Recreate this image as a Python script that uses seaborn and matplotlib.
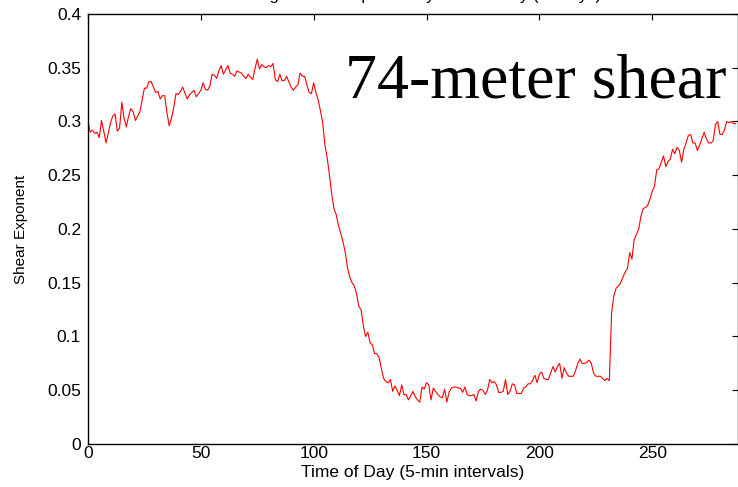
import matplotlib
matplotlib.use("Agg")
import matplotlib.pyplot as plt
import numpy as np
import pandas as pd
import seaborn as sns
from matplotlib.ticker import FuncFormatter

# Shear exponent at 74 m, one value per 5-minute interval
night_am = [
    0.300, 0.290, 0.292, 0.289, 0.290, 0.285, 0.301, 0.291, 0.280, 0.289,
    0.299, 0.305, 0.307, 0.291, 0.294, 0.318, 0.303, 0.295, 0.305, 0.312,
    0.309, 0.301, 0.305, 0.309, 0.320, 0.331, 0.331, 0.337, 0.337, 0.332,
    0.327, 0.328, 0.321, 0.324, 0.324, 0.308, 0.296, 0.303, 0.313, 0.326,
    0.325, 0.328, 0.332, 0.326, 0.321, 0.325, 0.327, 0.329, 0.323, 0.326,
    0.329, 0.336, 0.330, 0.329, 0.333, 0.344, 0.343, 0.340, 0.347, 0.352,
    0.344, 0.348, 0.352, 0.345, 0.344, 0.342, 0.347, 0.346, 0.345, 0.342,
    0.340, 0.344, 0.341, 0.339, 0.349, 0.358, 0.349, 0.353, 0.351, 0.350,
    0.352, 0.351, 0.354, 0.339, 0.337, 0.344, 0.338, 0.338, 0.342, 0.337,
    0.332, 0.329, 0.332, 0.334, 0.345, 0.342, 0.342, 0.334, 0.327, 0.326,
    0.336, 0.327, 0.320, 0.310, 0.299,
]
morning_drop = [
    0.278, 0.266, 0.250, 0.232, 0.219, 0.213, 0.203, 0.196, 0.188, 0.178,
    0.164, 0.155, 0.150, 0.147, 0.140, 0.128, 0.125, 0.110, 0.100, 0.104,
    0.094, 0.092, 0.084, 0.084, 0.080, 0.070, 0.061, 0.058, 0.057, 0.060,
]
daytime = [
    0.049, 0.054, 0.050, 0.045, 0.055, 0.046, 0.046, 0.041, 0.045, 0.049,
    0.044, 0.041, 0.039, 0.053, 0.051, 0.057, 0.055, 0.041, 0.052, 0.049,
    0.046, 0.044, 0.043, 0.051, 0.039, 0.048, 0.052, 0.053, 0.053, 0.052,
    0.052, 0.048, 0.053, 0.046, 0.045, 0.045, 0.046, 0.040, 0.049, 0.051,
    0.050, 0.046, 0.050, 0.060, 0.057, 0.058, 0.055, 0.048, 0.048, 0.049,
    0.060, 0.046, 0.049, 0.056, 0.055, 0.047, 0.047, 0.047, 0.052, 0.053,
    0.056, 0.056, 0.059, 0.064, 0.057, 0.065, 0.067, 0.061, 0.060, 0.060,
    0.066, 0.072, 0.067, 0.072, 0.075, 0.061, 0.071, 0.066, 0.063, 0.063,
    0.063, 0.068, 0.075, 0.079, 0.075, 0.075, 0.076, 0.078, 0.075, 0.066,
    0.063, 0.063, 0.063, 0.061, 0.059, 0.061, 0.059,
]
evening_rise = [
    0.122, 0.138, 0.145, 0.147, 0.150, 0.155, 0.160, 0.163, 0.178, 0.172,
    0.190, 0.195, 0.200, 0.212, 0.219, 0.220, 0.222, 0.228, 0.235, 0.240,
    0.255, 0.256, 0.262, 0.268, 0.258, 0.263, 0.265, 0.274, 0.270, 0.276,
    0.273, 0.262, 0.274, 0.280, 0.287, 0.288, 0.280, 0.280, 0.273, 0.278,
    0.284, 0.290, 0.284, 0.280, 0.280, 0.282, 0.297, 0.300, 0.288, 0.288,
    0.292, 0.300, 0.299, 0.300, 0.298, 0.298,
]

shear = night_am + morning_drop + daytime + evening_rise
df = pd.DataFrame({"interval": np.arange(len(shear)), "shear": shear})

x_ticks = [0, 50, 100, 150, 200, 250]
y_ticks = [0, 0.05, 0.1, 0.15, 0.2, 0.25, 0.3, 0.35, 0.4]

sns.set_style("white")
plt.rcParams["font.family"] = ["Liberation Sans", "DejaVu Sans"]
plt.rcParams["xtick.direction"] = "in"
plt.rcParams["ytick.direction"] = "in"
plt.rcParams["text.color"] = "black"
plt.rcParams["axes.labelcolor"] = "black"
plt.rcParams["xtick.color"] = "black"
plt.rcParams["ytick.color"] = "black"

fig = plt.figure(figsize=(7.38, 4.87), dpi=100)
ax = fig.add_axes([0.1192, 0.0883, 0.8808, 0.883])

sns.lineplot(data=df, x="interval", y="shear", color="red", linewidth=0.8, ax=ax)

ax.set_xlim(0, 288)
ax.set_ylim(0, 0.4)
ax.set_xticks(x_ticks)
ax.set_yticks(y_ticks)
ax.yaxis.set_major_formatter(FuncFormatter(lambda v, p: f"{v:g}"))
ax.tick_params(axis="both", which="both", top=True, right=True,
               length=4, width=0.8, labelsize=12.5)
ax.tick_params(axis="y", pad=5)
ax.tick_params(axis="x", pad=1.5)
for s in ax.spines.values():
    s.set_color("black")
    s.set_linewidth(1.0)

ax.set_xlabel("Time of Day (5-min intervals)", fontsize=12.5, labelpad=3)
ax.set_ylabel("Shear Exponent", fontsize=11, labelpad=14)

# title sits mostly above the top edge of the picture, as in the reference
fig.text(0.56, 1.0, "Average Shear Exponent by Time of Day (all days)",
         ha="center", va="baseline", fontsize=12)

fig.text(0.4675, 0.80, "74-meter shear", ha="left", va="baseline",
         fontsize=46, family=["Liberation Serif", "DejaVu Serif"],
         bbox=dict(facecolor="white", edgecolor="none", pad=1))

fig.savefig("out.png", dpi=100)
